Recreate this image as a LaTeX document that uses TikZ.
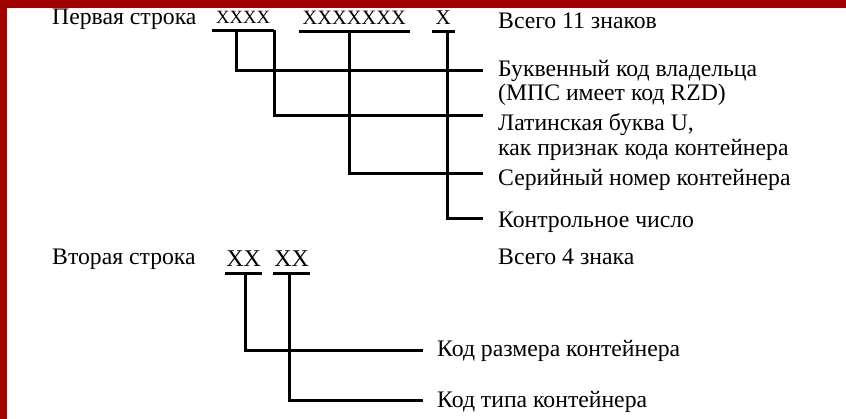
\documentclass[tikz,border=0pt]{standalone}
\usepackage{fontspec}
\setmainfont{Liberation Serif}
\usepackage{tikz}
\definecolor{frame}{RGB}{160,0,0}

\begin{document}
\begin{tikzpicture}[x=1pt,y=-1pt]
        \tikzstyle{every node}+=[inner sep=0pt, anchor=base west]
        \tikzstyle{txt}=[font=\fontsize{23.7}{26}\selectfont]
        \tikzstyle{code}=[inner ysep=0pt, text depth=6pt]
        \tikzstyle{wire}=[black, line width=3pt]
        \useasboundingbox (0,0) rectangle (846,419);
        \fill [frame] (0,0) rectangle (846,8);
        \fill [frame] (0,0) rectangle (7,419);
        % first line of the marking
        \node [txt] (row1) at (52,25) {Первая строка};
        \node [code, inner xsep=4pt, font=\fontsize{18.7}{20}\selectfont] (x4) at (212,24) {XXXX};
        \node [code, inner xsep=3.5pt, font=\fontsize{20.4}{22}\selectfont] (x7) at (299,25) {XXXXXXX};
        \node [code, inner xsep=3.5pt, font=\fontsize{21}{22}\selectfont] (x1) at (432,25) {X};
        \node [txt] (total11) at (498,29) {Всего 11 знаков};
        \node [txt] (owner) at (498,77) {Буквенный код владельца};
        \node [txt] (ownernote) at (498,101) {(МПС имеет код RZD)};
        \node [txt] (latin) at (498,131) {Латинская буква U,};
        \node [txt] (latinnote) at (498,156) {как признак кода контейнера};
        \node [txt] (serial) at (498,186) {Серийный номер контейнера};
        \node [txt] (check) at (498,228) {Контрольное число};
        % second line of the marking
        \node [txt] (row2) at (52,265) {Вторая строка};
        \node [code, inner xsep=1.2pt, font=\fontsize{24}{26}\selectfont] (xa) at (225,267) {XX};
        \node [code, inner xsep=1.2pt, font=\fontsize{24}{26}\selectfont] (xb) at (273,267) {XX};
        \node [txt] (total4) at (498,265) {Всего 4 знака};
        \node [txt] (size) at (437,357) {Код размера контейнера};
        \node [txt] (type) at (437,407) {Код типа контейнера};
        % underlines
        \foreach \g in {x4,x7,x1,xa,xb}
          \draw [wire] (\g.south west) -- (\g.south east);
        % leaders to the explanations
        \draw [wire] ([xshift=24pt]x4.south west) |- ([xshift=-15pt,yshift=6pt]owner.base west);
        \draw [wire] (x4.south east) |- ([xshift=-15pt,yshift=15pt]latin.base west);
        \draw [wire] ([xshift=50pt]x7.south west) |- ([xshift=-15pt,yshift=12pt]serial.base west);
        \draw [wire] ([xshift=15pt]x1.south west) |- ([xshift=-15pt,yshift=9pt]check.base west);
        \draw [wire] ([xshift=20pt]xa.south west) |- ([xshift=-14pt,yshift=6pt]size.base west);
        \draw [wire] ([xshift=16pt]xb.south west) |- ([xshift=-14pt,yshift=6pt]type.base west);
\end{tikzpicture}
\end{document}
